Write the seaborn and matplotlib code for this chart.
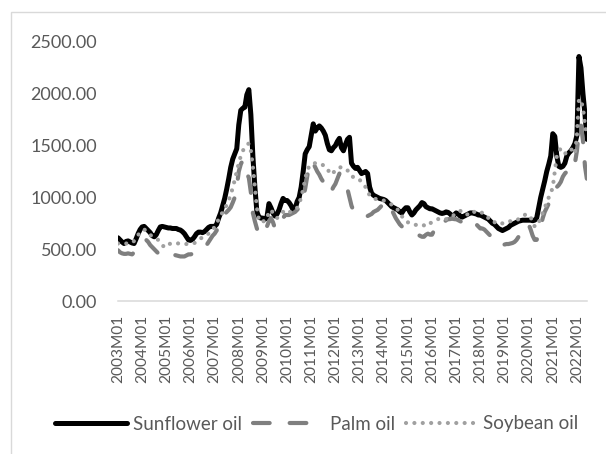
import matplotlib
matplotlib.use('Agg')
import matplotlib.pyplot as plt
from matplotlib.patches import Rectangle
import pandas as pd
import seaborn as sns

# 월별 가격 (2003M01 ~ 2022M06), 그림에서 읽은 값
sunflower = [
    610, 590, 570, 555, 575, 580, 570, 560, 555, 600, 650, 690,
    715, 720, 700, 680, 660, 630, 620, 640, 680, 715, 720, 715,
    710, 705, 705, 700, 700, 700, 690, 685, 670, 650, 620, 590,
    585, 595, 620, 650, 665, 665, 660, 670, 690, 710, 720, 720,
    720, 740, 800, 850, 920, 990, 1080, 1180, 1290, 1370, 1420, 1470,
    1700, 1840, 1860, 1870, 1990, 2040, 1800, 1400, 1100, 860, 810, 800,
    800, 790, 810, 940, 900, 850, 820, 840, 880, 940, 990, 970,
    970, 950, 920, 880, 890, 960, 1000, 1100, 1250, 1420, 1460, 1490,
    1600, 1710, 1640, 1670, 1690, 1670, 1640, 1600, 1520, 1460, 1450, 1480,
    1500, 1540, 1570, 1480, 1450, 1510, 1560, 1580, 1330, 1300, 1280, 1290,
    1260, 1230, 1240, 1250, 1230, 1100, 1040, 1020, 1010, 1000, 990, 985,
    980, 970, 950, 930, 910, 900, 890, 880, 860, 850, 880, 900,
    900, 860, 830, 850, 880, 900, 920, 950, 940, 910, 900, 890,
    890, 880, 870, 860, 850, 845, 850, 860, 855, 840, 820, 830,
    850, 840, 820, 810, 820, 830, 840, 850, 850, 845, 840, 830,
    830, 820, 810, 800, 790, 770, 750, 740, 720, 700, 690, 680,
    690, 700, 710, 730, 740, 750, 760, 770, 775, 780, 780, 780,
    780, 780, 775, 780, 800, 900, 1000, 1080, 1160, 1250, 1320, 1400,
    1615, 1590, 1400, 1300, 1290, 1300, 1330, 1400, 1430, 1450, 1480, 1520,
    1600, 2360, 2250, 2000, 1800, 1560,
]

palm = [
    490, 470, 460, 455, 455, 460, 455, 450, 470, 500, 530, 540,
    550, 580, 590, 570, 540, 520, 500, 480, 460, 450, 430, 425,
    430, 440, 450, 450, 445, 440, 435, 430, 430, 430, 440, 450,
    450, 455, 460, 470, 480, 485, 490, 520, 540, 570, 600, 630,
    650, 680, 720, 760, 800, 840, 860, 880, 905, 950, 1000, 1100,
    1250, 1320, 1360, 1300, 1230, 1190, 1050, 850, 770, 700, 650, 630,
    640, 680, 720, 770, 800, 760, 700, 690, 720, 760, 800, 830,
    830, 830, 840, 850, 860, 880, 900, 940, 1000, 1085, 1200, 1320,
    1300, 1330, 1290, 1250, 1220, 1180, 1150, 1120, 1080, 1040, 1060, 1100,
    1130, 1180, 1230, 1200, 1150, 1100, 1080, 1000, 920, 870, 850, 840,
    830, 840, 840, 830, 820, 830, 840, 860, 870, 880, 900, 920,
    940, 960, 950, 920, 880, 840, 800, 770, 740, 720, 710, 700,
    690, 680, 670, 660, 650, 640, 630, 620, 620, 640, 650, 640,
    640, 680, 720, 760, 770, 770, 760, 780, 790, 790, 800, 790,
    790, 780, 770, 760, 760, 750, 760, 780, 780, 760, 740, 720,
    700, 700, 690, 670, 650, 630, 610, 590, 560, 540, 530, 540,
    545, 550, 550, 555, 560, 570, 590, 620, 650, 690, 720, 740,
    740, 690, 630, 590, 590, 650, 720, 800, 860, 900, 940, 990,
    1020, 1060, 1100, 1120, 1150, 1200, 1230, 1250, 1300, 1340, 1350, 1330,
    1450, 1650, 1700, 1550, 1300, 1170,
]

soybean = [
    555, 550, 550, 555, 555, 555, 555, 560, 580, 620, 640, 650,
    680, 690, 680, 660, 640, 620, 610, 600, 590, 570, 540, 520,
    520, 540, 555, 560, 560, 560, 555, 555, 555, 555, 550, 550,
    550, 555, 560, 570, 580, 600, 620, 635, 640, 650, 660, 680,
    720, 750, 790, 820, 860, 890, 930, 970, 1030, 1090, 1170, 1250,
    1330, 1400, 1450, 1480, 1510, 1520, 1450, 1300, 1100, 900, 780, 760,
    770, 770, 800, 860, 880, 850, 820, 800, 820, 840, 860, 870,
    880, 860, 860, 870, 880, 900, 940, 1000, 1080, 1180, 1260, 1300,
    1320, 1330, 1330, 1320, 1320, 1320, 1310, 1300, 1280, 1240, 1220, 1240,
    1260, 1280, 1290, 1290, 1280, 1260, 1260, 1250, 1220, 1190, 1180, 1180,
    1170, 1150, 1120, 1100, 1060, 1020, 1000, 990, 985, 980, 980, 975,
    970, 960, 950, 940, 930, 920, 900, 880, 860, 820, 790, 770,
    760, 750, 740, 735, 735, 740, 740, 740, 730, 720, 730, 750,
    760, 770, 780, 790, 800, 800, 790, 790, 800, 810, 820, 830,
    850, 860, 870, 860, 840, 830, 840, 860, 870, 860, 850, 850,
    860, 850, 840, 830, 800, 780, 760, 760, 760, 750, 740, 750,
    760, 760, 770, 770, 770, 780, 780, 790, 800, 810, 830, 840,
    830, 810, 760, 720, 720, 760, 800, 850, 900, 950, 1000, 1040,
    1100, 1250, 1400, 1450, 1470, 1440, 1420, 1440, 1450, 1470, 1440, 1420,
    1600, 1950, 1930, 1870, 1700, 1580,
]

months = [f'{y}M{m:02d}' for y in range(2003, 2023) for m in range(1, 13)][:len(sunflower)]
y_ticks = [0, 500, 1000, 1500, 2000, 2500]

df = pd.DataFrame({'month': range(len(months)),
                   'Sunflower oil': sunflower,
                   'Palm oil': palm,
                   'Soybean oil': soybean})

sns.set_style('white')
plt.rcParams['font.family'] = ['Lato', 'DejaVu Sans']
TXT = '#595959'

fig = plt.figure(figsize=(6.06, 4.54), dpi=100)
ax = fig.add_axes([118 / 606, 1 - 301 / 454, (587 - 118) / 606, (301 - 42) / 454])

sns.lineplot(data=df, x='month', y='Sunflower oil', ax=ax, color='black', linewidth=3.6,
             solid_capstyle='round', solid_joinstyle='round', label='Sunflower oil')
sns.lineplot(data=df, x='month', y='Palm oil', ax=ax, color='#7f7f7f', linewidth=3.0,
             linestyle=(0, (4.0, 4.8)), dash_capstyle='round', label='Palm oil')
sns.lineplot(data=df, x='month', y='Soybean oil', ax=ax, color='#a0a0a0', linewidth=3.0,
             linestyle=(0, (0.01, 2.0)), dash_capstyle='round', label='Soybean oil')

ax.set_xlim(0, len(months) - 1)
ax.set_ylim(0, 2500)
ax.set_yticks(y_ticks)
ax.set_yticklabels([f'{v:.2f}' for v in y_ticks])
ax.set_xticks(range(0, len(months), 12))
ax.set_xticklabels(months[::12], rotation=90)
ax.set_xlabel('')
ax.set_ylabel('')
ax.tick_params(axis='y', length=0, pad=15, labelsize=13, labelcolor=TXT)
ax.tick_params(axis='x', length=0, pad=10, labelsize=11.2, labelcolor=TXT)

for s in ['left', 'top', 'right']:
    ax.spines[s].set_visible(False)
ax.spines['bottom'].set_color('#d9d9d9')
ax.spines['bottom'].set_linewidth(1.1)

# 범례
handles, labels = ax.get_legend_handles_labels()
ax.get_legend().remove()
fig.legend(handles, labels, loc='center', bbox_to_anchor=(317 / 606, 1 - 424 / 454),
           ncol=3, frameon=False, fontsize=13.5, labelcolor=TXT,
           handlelength=3.84, handletextpad=0.27, columnspacing=0.6)

# 차트 영역 테두리
fig.add_artist(Rectangle((11 / 606, -0.05), 1.1, 1.05 - 12.5 / 454, transform=fig.transFigure,
                         fill=False, edgecolor='#d9d9d9', linewidth=1))

fig.savefig('out.png', dpi=100)
